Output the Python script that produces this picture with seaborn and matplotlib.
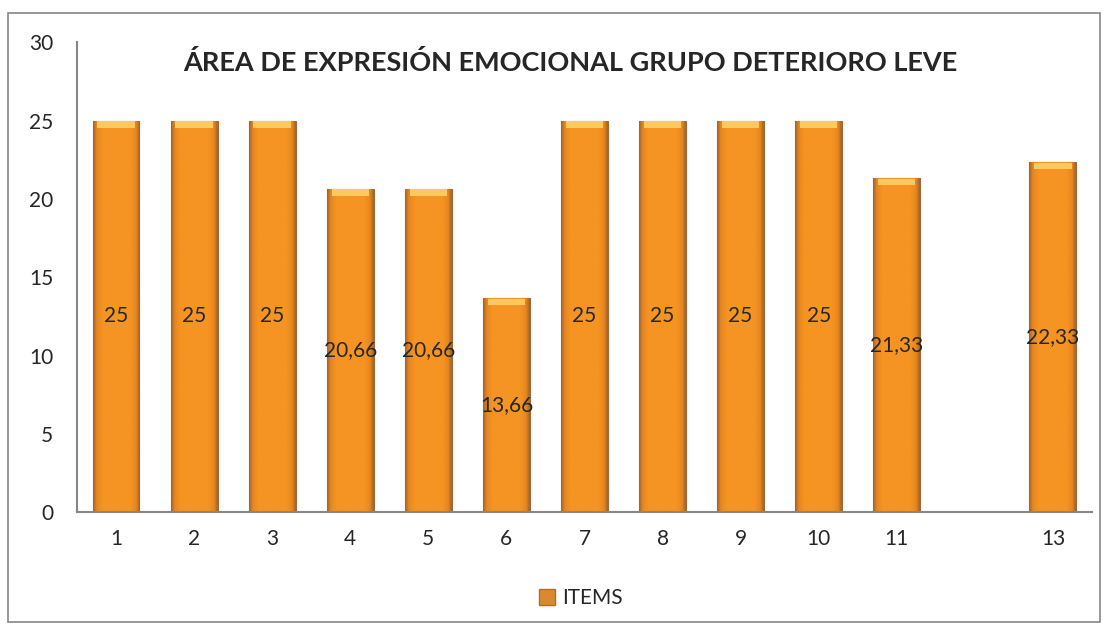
import numpy as np
import pandas as pd
import matplotlib
matplotlib.use('Agg')
import matplotlib.pyplot as plt
import seaborn as sns
from matplotlib.patches import Rectangle, Patch

sns.set_style("white")
plt.rcParams['font.family'] = ['Lato', 'DejaVu Sans']

# datos
items = ['1', '2', '3', '4', '5', '6', '7', '8', '9', '10', '11', '12', '13']
valores = [25, 25, 25, 20.66, 20.66, 13.66, 25, 25, 25, 25, 21.33, np.nan, 22.33]
etiquetas = ['25', '25', '25', '20,66', '20,66', '13,66', '25', '25', '25', '25', '21,33', '', '22,33']
titulo = 'ÁREA DE EXPRESIÓN EMOCIONAL GRUPO DETERIORO LEVE'

df = pd.DataFrame({'item': items, 'valor': valores})

fig = plt.figure(figsize=(11.08, 6.3), dpi=100)
ax = fig.add_axes([0.0695, 0.187, 0.916, 0.746])

sns.barplot(data=df.dropna(), x='item', y='valor', order=items, ax=ax,
            color='#F39224', width=0.6, edgecolor='#9A6A3A', linewidth=0.8)

# degradado horizontal en cada barra
cmap = matplotlib.colors.LinearSegmentedColormap.from_list(
    'naranja', [(0.0, '#9C6430'), (0.08, '#E8861E'), (0.2, '#F59423'),
                (0.8, '#F59423'), (0.92, '#E8861E'), (1.0, '#9C6430')])
grad = np.linspace(0, 1, 256).reshape(1, -1)
for p in ax.patches:
    x0, w, h = p.get_x(), p.get_width(), p.get_height()
    if np.isnan(h) or h == 0:
        continue
    im = ax.imshow(grad, cmap=cmap, extent=[x0, x0 + w, 0, h],
                   aspect='auto', zorder=p.get_zorder() + 0.1)
    im.set_clip_path(p)
    # tapa superior clara
    ax.add_patch(Rectangle((x0 + w * 0.1, h - 0.45), w * 0.8, 0.4,
                           color='#FCC860', zorder=p.get_zorder() + 0.2, lw=0))

for i, (v, t) in enumerate(zip(valores, etiquetas)):
    if np.isnan(v):
        continue
    ax.text(i, v / 2, t, ha='center', va='center', fontsize=15, zorder=5)

ax.set_xlim(-0.5, len(items) - 0.5)
ax.set_ylim(0, 30)
ax.set_yticks(range(0, 31, 5))
ax.set_xticks(range(len(items)))
ax.set_xticklabels([it if it != '12' else '' for it in items])
ax.tick_params(axis='both', length=0, labelsize=15, pad=12)
ax.tick_params(axis='y', pad=17)
ax.set_xlabel('')
ax.set_ylabel('')
for s in ['top', 'right']:
    ax.spines[s].set_visible(False)
for s in ['left', 'bottom']:
    ax.spines[s].set_color('#868686')
    ax.spines[s].set_linewidth(1.5)

ax.text(0.486, 0.957, titulo, transform=ax.transAxes, ha='center', va='center',
        fontsize=19.5, fontweight='bold')

fig.legend(handles=[Patch(facecolor='#D98A30', edgecolor='#B86A20')], labels=['ITEMS'],
           loc='center', bbox_to_anchor=(0.524, 0.05), frameon=False, fontsize=15,
           handlelength=0.8, handleheight=0.8, handletextpad=0.3)

# borde exterior
fig.patches.append(Rectangle((8 / 1108, 8 / 630), 1092 / 1108, 609 / 630,
                             transform=fig.transFigure, fill=False,
                             edgecolor='#868686', linewidth=1.2))

fig.savefig('out.png', dpi=100)
